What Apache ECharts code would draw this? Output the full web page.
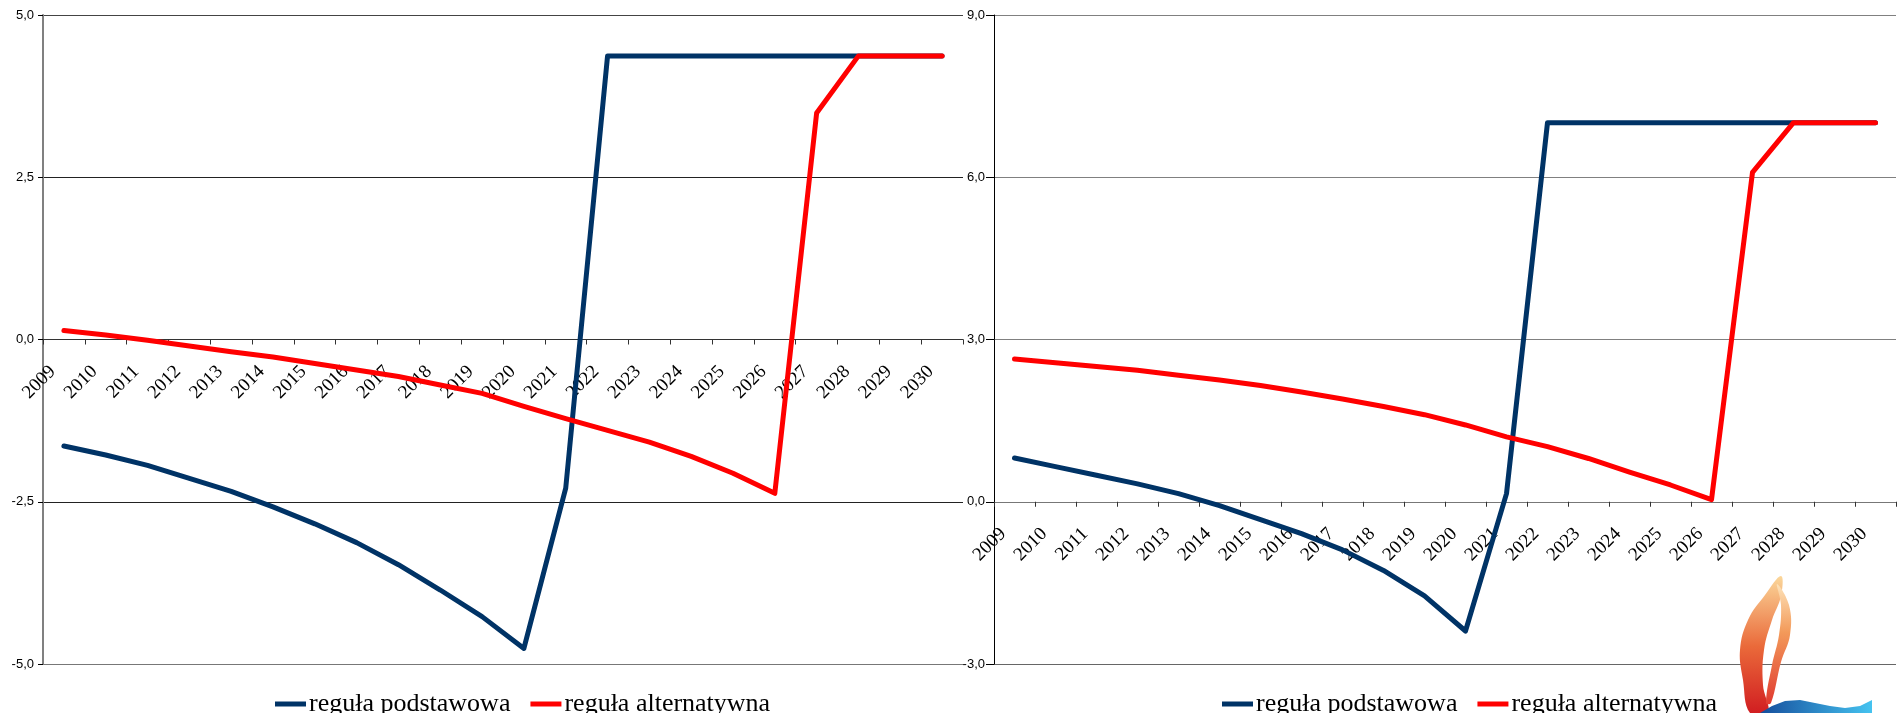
<!DOCTYPE html>
<html>
<head>
<meta charset="utf-8">
<script src="https://cdn.jsdelivr.net/npm/echarts@6/dist/echarts.min.js"></script>
<style>
html,body{margin:0;padding:0;background:#fff;}
#c{width:1904px;height:713px;}
</style>
</head>
<body>
<div id="c"></div>
<script>
const years = ['2009','2010','2011','2012','2013','2014','2015','2016','2017','2018','2019','2020','2021','2022','2023','2024','2025','2026','2027','2028','2029','2030'];
const seriesNames = ['reguła podstawowa', 'reguła alternatywna'];
// left panel
const leftBase = [-1.64,-1.78,-1.94,-2.14,-2.34,-2.58,-2.84,-3.13,-3.47,-3.86,-4.27,-4.76,-2.29,4.37,4.37,4.37,4.37,4.37,4.37,4.37,4.37,4.37];
const leftAlt  = [0.14,0.07,-0.01,-0.10,-0.19,-0.27,-0.37,-0.47,-0.57,-0.70,-0.83,-1.03,-1.22,-1.40,-1.58,-1.80,-2.06,-2.37,3.49,4.37,4.37,4.37];
const leftTicks = [-5, 5, 2.5];
// right panel
const rightBase = [0.81,0.65,0.49,0.33,0.15,-0.07,-0.33,-0.59,-0.89,-1.27,-1.74,-2.39,0.15,7.01,7.01,7.01,7.01,7.01,7.01,7.01,7.01,7.01];
const rightAlt  = [2.64,2.57,2.50,2.43,2.34,2.25,2.15,2.03,1.90,1.76,1.61,1.42,1.20,1.02,0.80,0.55,0.31,0.04,6.09,7.01,7.01,7.01];
const rightTicks = [-3, 9, 3];

const NAVY = '#003366', RED = '#ff0000';
const GRID_H = 649;
const fmt = v => v.toFixed(1).replace('.', ',');
const grad = (x, y, x2, y2, stops) => ({ type: 'linear', x: x, y: y, x2: x2, y2: y2,
  colorStops: stops.map(s => ({ offset: s[0], color: s[1] })) });
// place the category axis on the value 0 of its panel
const zeroOffset = t => -GRID_H * (0 - t[0]) / (t[1] - t[0]);

function xAxis(gi, lineColor, t) {
  return {
    type: 'category', gridIndex: gi, data: years, boundaryGap: true, position: 'bottom',
    offset: zeroOffset(t),
    axisLine: { onZero: false, lineStyle: { color: lineColor, width: 1 } },
    axisTick: { show: true, interval: 0, length: 5, lineStyle: { color: '#333' } },
    axisLabel: { interval: 0, rotate: 45, margin: 18, padding: [0, 16, 0, 0],
      fontFamily: 'Liberation Serif', fontSize: 19, color: '#000' },
    splitLine: { show: false }
  };
}
function yAxis(gi, t, axisColor, axisWidth, gridColors, tickLen) {
  return {
    type: 'value', gridIndex: gi, min: t[0], max: t[1], interval: t[2],
    axisLine: { show: true, onZero: false, lineStyle: { color: axisColor, width: axisWidth } },
    axisTick: { show: true, length: tickLen, lineStyle: { color: '#000' } },
    axisLabel: { formatter: fmt, margin: 9, fontFamily: 'Liberation Sans', fontSize: 13, color: '#000' },
    splitLine: { show: true, lineStyle: { color: gridColors, width: 1 } }
  };
}
function line(name, xi, data, color) {
  return {
    name: name, type: 'line', xAxisIndex: xi, yAxisIndex: xi, data: data,
    showSymbol: false, symbol: 'none', animation: false,
    lineStyle: { color: color, width: 5, cap: 'round', join: 'round' },
    itemStyle: { color: color }, emphasis: { disabled: true }
  };
}
function legend(left) {
  return {
    left: left, top: 686, data: seriesNames, icon: 'rect', itemWidth: 31, itemHeight: 5,
    itemGap: 20, selectedMode: false,
    textStyle: { fontFamily: 'Liberation Serif', fontSize: 26, color: '#000', padding: [0, 0, 0, -2] }
  };
}

const chart = echarts.init(document.getElementById('c'), null, { renderer: 'canvas' });
chart.setOption({
  backgroundColor: '#fff',
  animation: false,
  grid: [
    { left: 43, top: 15, width: 920, height: GRID_H, containLabel: false },
    { left: 994, top: 15, width: 902, height: GRID_H, containLabel: false }
  ],
  xAxis: [xAxis(0, '#333', leftTicks), xAxis(1, '#777', rightTicks)],
  yAxis: [yAxis(0, leftTicks, '#808080', 2, ['#777', '#222', '#222', '#222', '#444'], 5),
          yAxis(1, rightTicks, '#000', 1, ['#666', '#808080', '#808080', '#808080', '#808080'], 8)],
  legend: [legend(270), legend(1217)],
  series: [
    line(seriesNames[0], 0, leftBase, NAVY),
    line(seriesNames[1], 0, leftAlt, RED),
    line(seriesNames[0], 1, rightBase, NAVY),
    line(seriesNames[1], 1, rightAlt, RED)
  ]
});
// decorative logo (bottom right)
chart.setOption({
  graphic: [
    { type: 'polygon', silent: true, z: 100,
      shape: { smooth: 0.4, points: [[1781,576],[1765,595],[1748,620],[1740,650],[1743,680],[1750,713],[1768,713],[1763,685],[1764,650],[1772,620],[1781,596]] },
      style: { fill: grad(0, 1, 0, 0, [[0, '#d01a20'], [0.5, '#ea6a3a'], [1, '#fbd79a']]) } },
    { type: 'polygon', silent: true, z: 100,
      shape: { smooth: 0.4, points: [[1777,584],[1789,605],[1790,635],[1781,662],[1771,703],[1766,703],[1772,665],[1779,635],[1781,605]] },
      style: { fill: grad(0, 1, 0, 0, [[0, '#e03a30'], [0.6, '#f39a5a'], [1, '#fde2b8']]) } },
    { type: 'polygon', silent: true, z: 100,
      shape: { points: [[1760,713],[1772,706],[1785,701],[1800,700],[1815,703],[1830,706],[1845,708],[1860,706],[1872,700],[1872,713]] },
      style: { fill: grad(0, 0, 1, 0, [[0, '#154d9c'], [1, '#45c3f0']]) } }
  ]
});
</script>
</body>
</html>
